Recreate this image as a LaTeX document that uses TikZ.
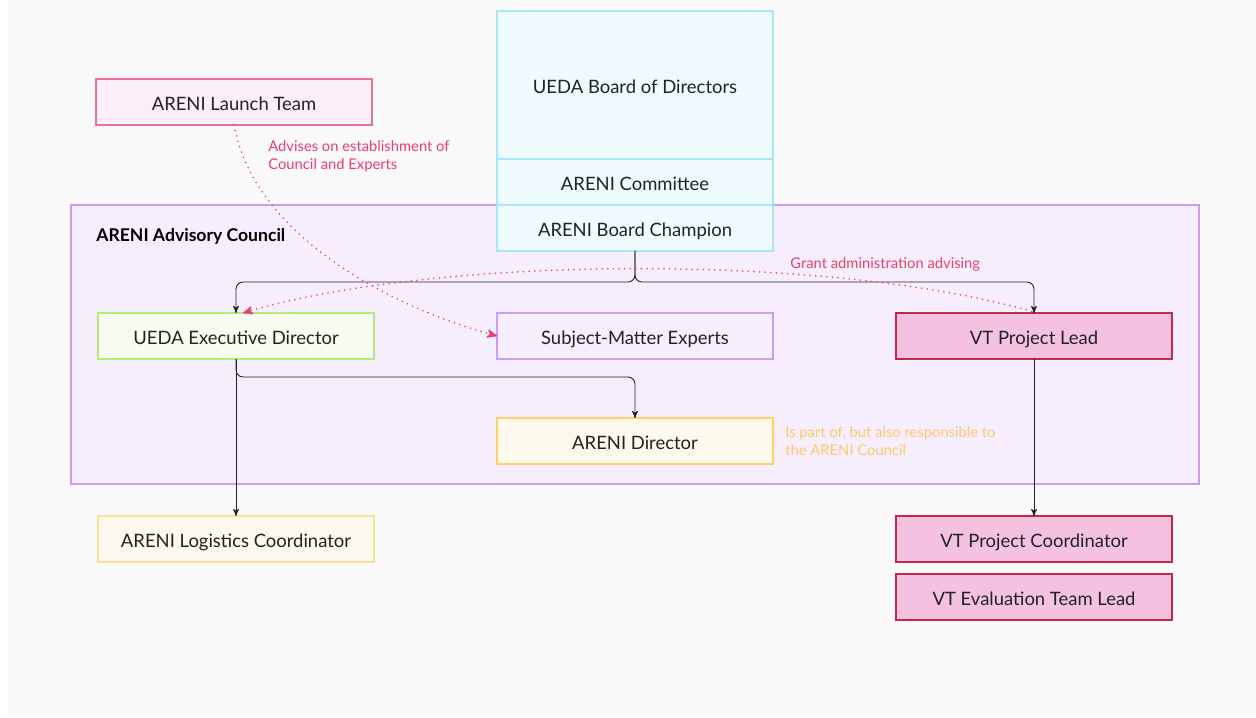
\documentclass[tikz,border=0pt]{standalone}
\usepackage{fontspec}
\setmainfont{Lato}
\usetikzlibrary{positioning, calc, arrows}
\definecolor{bgcol}{HTML}{F9F9F9}
\definecolor{txtcol}{HTML}{222222}
\definecolor{boardfill}{HTML}{EEFAFD}
\definecolor{boarddraw}{HTML}{A9E6F5}
\definecolor{councilfill}{HTML}{F6EEFC}
\definecolor{councildraw}{HTML}{C99CF5}
\definecolor{launchfill}{HTML}{FBEEF6}
\definecolor{launchdraw}{HTML}{E8709F}
\definecolor{execfill}{HTML}{F7FDEF}
\definecolor{execdraw}{HTML}{B5E878}
\definecolor{vtfill}{HTML}{F5C1E1}
\definecolor{vtdraw}{HTML}{C2284A}
\definecolor{dirfill}{HTML}{FDF8EC}
\definecolor{dirdraw}{HTML}{FBD066}
\definecolor{logfill}{HTML}{FCF8EE}
\definecolor{logdraw}{HTML}{FBE09A}
\definecolor{pinktxt}{HTML}{E8416E}
\definecolor{orangetxt}{HTML}{FCC96A}
\tikzset{
    %Define style for boxes
    box/.style={
           rectangle,
           line width=1.5pt,
           text=txtcol,
           font=\fontsize{10.5}{12.5}\selectfont,
           minimum width=5.52cm,
           minimum height=0.92cm,
           text height=2.2ex,
           text depth=0.33ex,
           inner sep=0pt,
           outer sep=0pt,
           align=center},
 %
    boardbox/.style={box, draw=boarddraw, fill=boardfill},
    vtbox/.style={box, draw=vtdraw, fill=vtfill},
 %
    % Define note style
    note/.style={
           font=\fontsize{8.4}{10.2}\selectfont,
           align=left,
           inner sep=0pt},
 %
    % Define arrow styles
    arrow/.style={
           ->,
           line width=0.5pt,
           draw=txtcol,
           rounded corners=4pt},
    advise/.style={
           ->,
           pinktxt,
           line width=1pt,
           line cap=round,
           dash pattern=on 0pt off 3.2pt}
}
\begin{document}
\begin{tikzpicture}[x=0.02cm, y=-0.02cm, >=stealth']

  % background
  \fill[white] (0,0) rectangle (1256,717);
  \fill[bgcol] (8,0) rectangle (1256,717);
  \useasboundingbox (0,0) rectangle (1256,717);

  % council frame
  \node[box, draw=councildraw, fill=councilfill, minimum width=22.56cm,
        minimum height=5.58cm] (council) at (635,344.5) {};
  \node[anchor=west, font=\fontsize{10}{12}\selectfont\bfseries, text=black,
        inner sep=0pt] (councillabel) at (96,236) {ARENI Advisory Council};

  % board stack
  \node[boardbox, minimum height=2.96cm] (board) at (635,85) {UEDA Board of Directors};
  \node[boardbox, below=0pt of board] (committee) {ARENI Committee};
  \node[boardbox, below=0pt of committee] (champion) {ARENI Board Champion};

  % people
  \node[box, draw=launchdraw, fill=launchfill] (launch) at (234,102) {ARENI Launch Team};
  \node[box, draw=execdraw, fill=execfill] (exec) at (236,336) {UEDA Executive Director};
  \node[box, draw=councildraw, fill=councilfill] (experts) at (635,336) {Subject-Matter Experts};
  \node[vtbox] (vtlead) at (1034,336) {VT Project Lead};
  \node[box, draw=dirdraw, fill=dirfill] (director) at (635,441) {ARENI Director};
  \node[box, draw=logdraw, fill=logfill] (logistics) at (236,539) {ARENI Logistics Coordinator};
  \node[vtbox] (vtcoord) at (1034,539) {VT Project Coordinator};
  \node[vtbox] (vteval) at (1034,597) {VT Evaluation Team Lead};

  \coordinate (split) at (635,282);

  % reporting lines
  \draw[arrow] (champion.south) -- (split) -| (exec.north);
  \draw[arrow] (champion.south) -- (split) -| (vtlead.north);
  \draw[arrow] (exec.south) -- ++(0,18) -| (director.north);
  \draw[arrow] (exec.south) -- (logistics.north);
  \draw[arrow] (vtlead.south) -- (vtcoord.north);

  % advising lines
  \draw[advise] (launch.south) .. controls (255,240) and (400,310) .. (experts.west);
  \draw[advise] ([xshift=0.06cm]vtlead.north) .. controls (840,254) and (440,254) .. ([xshift=0.14cm]exec.north);

  % notes
  \node[note, text=pinktxt, anchor=north west] (advisenote) at (268,140)
       {Advises on establishment of\\Council and Experts};
  \node[note, text=pinktxt, anchor=west] (grantnote) at (790,264)
       {Grant administration advising};
  \node[note, text=orangetxt, anchor=north west] (dirnote) at (785,426)
       {Is part of, but also responsible to\\the ARENI Council};

\end{tikzpicture}
\end{document}
